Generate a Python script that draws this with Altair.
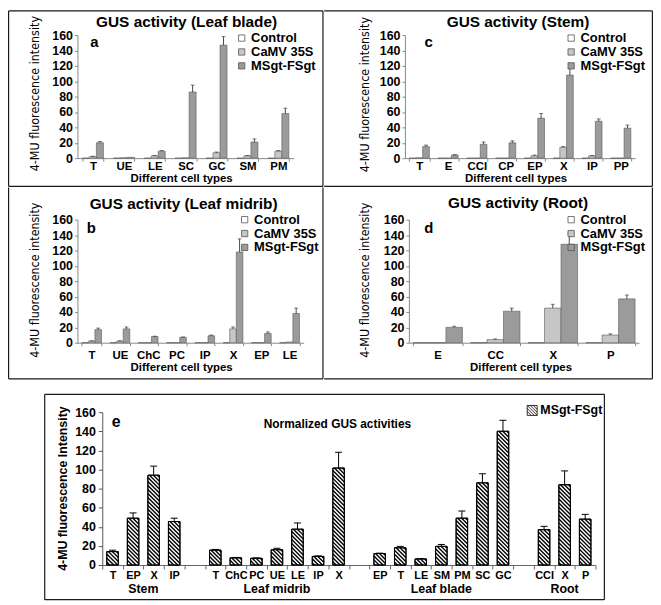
import json
import altair as alt
import pandas as pd

FONT = "Liberation Sans"
NARROW = "Liberation Sans Narrow, DejaVu Sans Condensed, Liberation Sans"
SERIES = ["Control", "CaMV 35S", "MSgt-FSgt"]
FILLS = ["#ffffff", "#c6c6c6", "#9b9b9b"]
YTICKS = [0, 20, 40, 60, 80, 100, 120, 140, 160]

# ---- panel a : Leaf blade
a_cats = ["T", "UE", "LE", "SC", "GC", "SM", "PM"]
a_ctrl = [0, 0, 0, 0, 0, 0, 0]
a_camv = [2, 0.5, 3, 0.5, 7, 3, 9]
a_msgt = [20, 1, 9, 86, 147, 21, 58]
a_camv_err = [0.5, 0, 0.5, 0, 1, 0.5, 1]
a_msgt_err = [1.5, 0, 1, 9, 11, 4, 7]

# ---- panel c : Stem
c_cats = ["T", "E", "CCI", "CP", "EP", "X", "IP", "PP"]
c_ctrl = [0, 0, 0, 0, 0, 0, 0, 0]
c_camv = [0.5, 0, 0, 0, 3, 14, 3, 0]
c_msgt = [15, 4, 18, 20, 52, 108, 48, 39]
c_camv_err = [0, 0, 0, 0, 1, 1, 0.5, 0]
c_msgt_err = [2, 0.5, 3, 2.5, 6, 10, 3, 4]

# ---- panel b : Leaf midrib
b_cats = ["T", "UE", "ChC", "PC", "IP", "X", "EP", "LE"]
b_ctrl = [0, 0, 0, 0, 0, 0, 0, 0]
b_camv = [2, 2, 0, 0, 0, 18, 0, 1]
b_msgt = [17, 18, 8, 7, 9, 118, 12, 38]
b_camv_err = [0.5, 0.5, 0, 0, 0, 2.5, 0, 0]
b_msgt_err = [2, 2.5, 0.5, 0.5, 1, 17, 2, 7]

# ---- panel d : Root
d_cats = ["E", "CC", "X", "P"]
d_ctrl = [0, 0, 0, 0]
d_camv = [0, 4, 45, 10]
d_msgt = [20, 41, 128, 57]
d_camv_err = [0, 1, 5, 1.5]
d_msgt_err = [1.5, 4, 14, 5]

# ---- panel e : normalized MSgt-FSgt
e_groups = ["Stem", "Leaf midrib", "Leaf blade", "Root"]
e_group_cats = [
    ["T", "EP", "X", "IP"],
    ["T", "ChC", "PC", "UE", "LE", "IP", "X"],
    ["EP", "T", "LE", "SM", "PM", "SC", "GC"],
    ["CCI", "X", "P"],
]
e_vals = [14, 49, 94, 45.5,
          15.5, 7.5, 7, 16, 37.5, 9, 101.5,
          12, 18, 6.3, 19.5, 49, 86, 140,
          37, 84, 48]
e_errs = [1.5, 5.5, 9.5, 3.5,
          0.8, 0.4, 0.4, 1.5, 6.5, 0.5, 16.5,
          0.4, 1.5, 0.4, 2, 7.5, 9.5, 11.5,
          3.5, 14.5, 5]

ONE = pd.DataFrame({"k": [0]})
LINE = "#1a1a1a"
X0 = 78  # common left edge of the first-column plot areas


def seg(x1, y1, x2, y2, width=1.2, opacity=1.0, color=LINE):
    return alt.Chart(ONE).mark_rule(color=color, strokeWidth=width, strokeOpacity=opacity).encode(
        x=alt.value(x1), x2=alt.value(x2), y=alt.value(y1), y2=alt.value(y2))


def txt(s, x, y, size, weight="bold", font=FONT, align="center", angle=0):
    return alt.Chart(ONE).mark_text(text=s, font=font, fontSize=size, fontWeight=weight,
                                    align=align, baseline="middle", color="black", angle=angle).encode(
        x=alt.value(x), y=alt.value(y))


def frame(ox, oy, cell, sides):
    x0, y0, x1, y1 = cell
    L, R, T, B = x0 - ox, x1 - ox, y0 - oy, y1 - oy
    out = [seg(L, T, R, T, width=0.01, opacity=0), seg(L, B, R, B, width=0.01, opacity=0)]
    i = 0.6
    if "left" in sides:
        out.append(seg(L + i, T + i, L + i, B - i))
    if "right" in sides:
        out.append(seg(R - i, T + i, R - i, B - i))
    if "top" in sides:
        out.append(seg(L + i, T + i, R - i, T + i))
    if "bottom" in sides:
        out.append(seg(L + i, B - i, R - i, B - i))
    return out


def top_panel(cats, ctrl, camv, msgt, camv_err, msgt_err, title, letter, g):
    ox, oy, w, h, pad = g["ox"], g["oy"], g["w"], g["h"], g["pad"]
    rows = []
    for i, c in enumerate(cats):
        for s, v, e in zip(SERIES, (ctrl[i], camv[i], msgt[i]), (0, camv_err[i], msgt_err[i])):
            rows.append(dict(cat=c, series=s, value=v, err=e, top=v + e))
    df = pd.DataFrame(rows)
    dferr = df[df["err"] > 0]

    xaxis = alt.Axis(title=None, labelAngle=0, labelFont=FONT, labelFontSize=11.5, labelFontWeight="bold",
                     labelColor="black", labelBaseline="middle", labelPadding=g["lp"],
                     tickBand="extent", tickSize=3, tickColor="#888888", domainColor="#888888",
                     grid=False)
    yaxis = alt.Axis(values=YTICKS, title=None,
                     labelFont=FONT, labelFontSize=12.5, labelFontWeight="bold", labelColor="black",
                     labelPadding=2, tickSize=3, tickColor="#888888", domainColor="#888888",
                     grid=False, labelOverlap=False)
    legend = alt.Legend(orient="none", legendX=g["lg"][0] - ox, legendY=g["lg"][1] - 6.5 - oy,
                        title=None, symbolType="square", symbolSize=40,
                        symbolStrokeColor="#555555", symbolStrokeWidth=0.8,
                        labelFont=FONT, labelFontSize=13, labelFontWeight="bold",
                        labelColor="black", rowPadding=0, labelOffset=3, padding=0)
    xsc = alt.Scale(domain=cats, paddingInner=pad, paddingOuter=pad / 2)
    osc = alt.Scale(domain=SERIES, paddingInner=0, paddingOuter=0)
    ysc = alt.Scale(domain=[0, 160], nice=False)
    X = alt.X("cat:N", scale=xsc, axis=xaxis)
    XO = alt.XOffset("series:N", scale=osc)

    bars = alt.Chart(df).mark_bar(stroke="#5a5a5a", strokeWidth=0.6).encode(
        x=X, xOffset=XO, y=alt.Y("value:Q", scale=ysc, axis=yaxis),
        fill=alt.Fill("series:N", scale=alt.Scale(domain=SERIES, range=FILLS), legend=legend))
    err = alt.Chart(dferr).mark_rule(color="#333333", strokeWidth=0.9).encode(
        x=X, xOffset=XO, y=alt.Y("value:Q", scale=ysc, axis=yaxis), y2="top:Q")
    caps = alt.Chart(dferr).mark_tick(color="#333333", thickness=0.9, size=4, orient="horizontal").encode(
        x=X, xOffset=XO, y=alt.Y("top:Q", scale=ysc, axis=yaxis))
    texts = [
        txt(letter, g["let"][0] - ox, g["let"][1] - oy, 15),
        txt(title, g["tt"][0] - ox, g["tt"][1] - oy, 15.5),
        txt("Different cell types", g["xt"][0] - ox, g["xt"][1] - oy, 11.5),
        txt("4-MU fluorescence intensity", g["yt"][0] - ox, g["yt"][1] - oy, 12.5,
            weight="normal", font=NARROW, angle=270),
    ]
    layers = [bars, err, caps] + texts + frame(ox, oy, g["cell"], g["sides"])
    return alt.layer(*layers).properties(width=w, height=h)


ga = dict(ox=X0, oy=33, w=218, h=124, pad=0.32, cell=(8, 8, 326, 186),
          sides=["left", "top", "right", "bottom"], tt=(188, 20), let=(95, 40), lg=(237, 36),
          yt=(35, 92), xt=(183, 178), lp=5)
gc = dict(ox=408, oy=33, w=232, h=124, pad=0.3, cell=(326, 8, 658, 186),
          sides=["top", "right", "bottom"], tt=(522, 20), let=(432, 40), lg=(569, 36),
          yt=(368, 93), xt=(520, 178), lp=5)
gb = dict(ox=X0, oy=219, w=228, h=124, pad=0.3, cell=(8, 186, 326, 380),
          sides=["left", "right", "bottom"], tt=(185, 203), let=(92, 227), lg=(240, 219),
          yt=(35, 280), xt=(183, 369), lp=10)
gd = dict(ox=412, oy=219, w=232, h=124, pad=0.14, cell=(326, 186, 658, 380),
          sides=["right", "bottom"], tt=(522, 202), let=(432, 227), lg=(569, 219),
          yt=(368, 280), xt=(525, 369), lp=10)

pa = top_panel(a_cats, a_ctrl, a_camv, a_msgt, a_camv_err, a_msgt_err, "GUS activity (Leaf blade)", "a", ga)
pc = top_panel(c_cats, c_ctrl, c_camv, c_msgt, c_camv_err, c_msgt_err, "GUS activity (Stem)", "c", gc)
pb = top_panel(b_cats, b_ctrl, b_camv, b_msgt, b_camv_err, b_msgt_err, "GUS activity (Leaf midrib)", "b", gb)
pd_ = top_panel(d_cats, d_ctrl, d_camv, d_msgt, d_camv_err, d_msgt_err, "GUS activity (Root)", "d", gd)

# ---------------- panel e
EOX, EOY = X0, 413          # view origin (aligned with the panels above)
EPX, EPR, EH = 103, 600, 154  # data area left / right edge, height
EW = EPR - EOX
slots, names, tick_names, group_pos = [], [], [], []
s = 0
for gi, cats in enumerate(e_group_cats):
    start = s
    for c in cats:
        slots.append(s)
        names.append(c)
        tick_names.append(c)
        s += 1
    group_pos.append((start + s) / 2)
    if gi < len(e_group_cats) - 1:
        tick_names.append("")
        s += 1
NSLOT = s
tick_names.append("")
kx = (EPR - EPX) / NSLOT
ky = EH / 160
HW = 0.28
CAP = 0.17

bar_rows, hatch_rows = [], []
for sl, nm, v, er in zip(slots, names, e_vals, e_errs):
    c = sl + 0.5
    bar_rows.append(dict(name=nm, series="MSgt-FSgt", xl=c - HW, xr=c + HW, xc=c, value=v, base=0,
                         top=v + er, capl=c - CAP, capr=c + CAP))
    Wp, Hp = 2 * HW * kx, v * ky
    k = -Wp + 2.0
    while k < Hp:
        u0, u1 = max(0.0, -k), min(Wp, Hp - k)
        if u1 > u0:
            hatch_rows.append(dict(hx1=c - HW + u0 / kx, hy1=(Hp - (u0 + k)) / ky,
                                   hx2=c - HW + u1 / kx, hy2=(Hp - (u1 + k)) / ky))
        k += 4.0
ebars = pd.DataFrame(bar_rows)
ehatch = pd.DataFrame(hatch_rows)
egrp = pd.DataFrame({"group": e_groups, "gx": group_pos})

exsc = alt.Scale(domain=[0, NSLOT], nice=False, zero=False, range=[EPX - EOX, EW])
eysc = alt.Scale(domain=[0, 160], nice=False)
exaxis = alt.Axis(values=list(range(NSLOT + 1)), labelExpr=json.dumps(tick_names) + "[datum.value]",
                  labelOffset=kx / 2, labelFlush=False, labelOverlap=False, title=None, grid=False,
                  tickSize=4, tickColor="#666666", domainColor="#666666", labelFont=FONT,
                  labelFontSize=11, labelFontWeight="bold", labelColor="black", labelPadding=1,
                  labelBaseline="top", labelAngle=0)
eyaxis = alt.Axis(values=YTICKS, title=None, offset=-(EPX - EOX), labelFont=FONT,
                  labelFontSize=12.5, labelFontWeight="bold", labelColor="black", labelPadding=3,
                  tickSize=4, tickColor="#555555", domainColor="#555555", grid=False, labelOverlap=False)
HATCH = ("M-1,-1H1V1H-1Z M0.2,-1L1,-0.2 M-0.4,-1L1,0.4 M-1,-1L1,1 "
         "M-1,-0.4L0.4,1 M-1,0.2L-0.2,1")
eleg = alt.Legend(orient="none", legendX=530 - EOX, legendY=412 - 7 - EOY, title=None,
                  symbolType=HATCH, symbolSize=100, symbolStrokeColor="black", symbolStrokeWidth=0.8,
                  labelFont=FONT, labelFontSize=12.5, labelFontWeight="bold", labelColor="black",
                  labelOffset=2, padding=0)

EX = lambda f: alt.X(f, scale=exsc, axis=exaxis)
EY = lambda f: alt.Y(f, scale=eysc, axis=eyaxis)

e_bar = alt.Chart(ebars).mark_rect(stroke="black", strokeWidth=1).encode(
    x=EX("xl:Q"), x2="xr:Q", y=EY("value:Q"), y2="base:Q",
    fill=alt.Fill("series:N", scale=alt.Scale(domain=["MSgt-FSgt"], range=["white"]), legend=eleg))
e_hatch = alt.Chart(ehatch).mark_rule(color="black", strokeWidth=1.4).encode(
    x=EX("hx1:Q"), x2="hx2:Q", y=EY("hy1:Q"), y2="hy2:Q")
e_out = alt.Chart(ebars).mark_rect(filled=False, stroke="black", strokeWidth=1).encode(
    x=EX("xl:Q"), x2="xr:Q", y=EY("value:Q"), y2="base:Q")
e_err = alt.Chart(ebars).mark_rule(color="black", strokeWidth=1).encode(
    x=EX("xc:Q"), y=EY("value:Q"), y2="top:Q")
e_cap = alt.Chart(ebars).mark_rule(color="black", strokeWidth=1).encode(
    x=EX("capl:Q"), x2="capr:Q", y=EY("top:Q"))
e_grp = alt.Chart(egrp).mark_text(font=FONT, fontSize=12.5, fontWeight="bold", color="black",
                                  baseline="middle").encode(
    x=EX("gx:Q"), y=alt.value(591 - EOY), text="group:N")
e_layers = [e_bar, e_hatch, e_out, e_err, e_cap, e_grp,
            txt("Normalized GUS activities", 340 - EOX, 425 - EOY, 12),
            txt("e", 117 - EOX, 423 - EOY, 16),
            txt("4-MU fluorescence Intensity", 63 - EOX, 490 - EOY, 12.5, angle=270)]
e_layers += [seg(50 - EOX, 380 - EOY, 600 - EOX, 380 - EOY, width=0.01, opacity=0)]
bx0, by0, bx1, by1 = 45 - EOX, 395 - EOY, 609 - EOX, 602 - EOY
e_layers += [seg(bx0, by0, bx1, by0), seg(bx0, by1, bx1, by1), seg(bx0, by0, bx0, by1), seg(bx1, by0, bx1, by1)]
pe = alt.layer(*e_layers).properties(width=EW, height=EH)

RS = dict(x="independent", y="independent", fill="independent", xOffset="independent")
row1 = alt.hconcat(pa, pc, spacing=0).resolve_scale(**RS).resolve_legend(fill="independent")
row2 = alt.hconcat(pb, pd_, spacing=0).resolve_scale(**RS).resolve_legend(fill="independent")
chart = (alt.vconcat(row1, row2, pe, spacing=0)
         .resolve_scale(**RS).resolve_legend(fill="independent")
         .properties(padding=0)
         .configure_view(stroke=None)
         .configure_concat(spacing=0))

chart.save("out.html", embed_options={"renderer": "svg", "actions": False})
